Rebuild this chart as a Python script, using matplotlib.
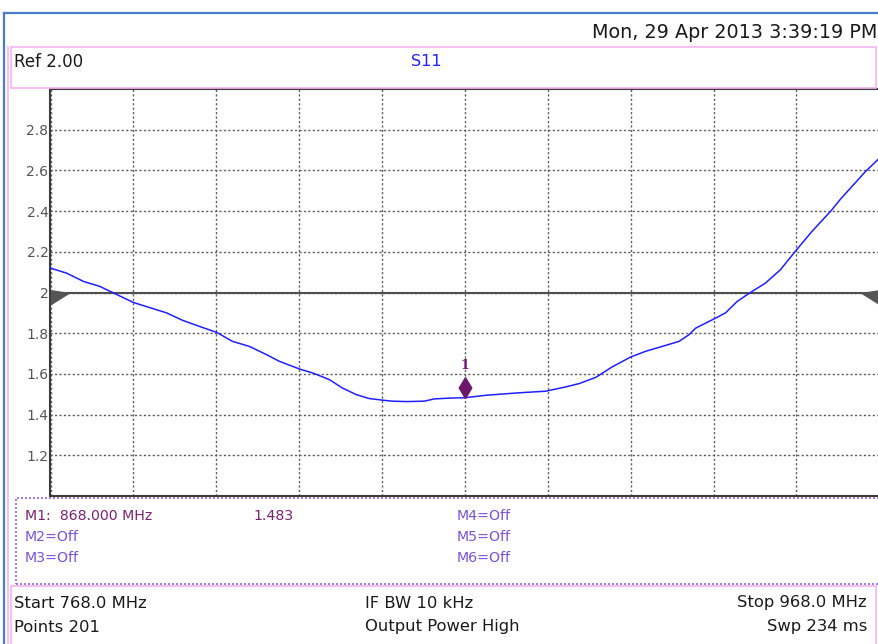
import matplotlib
matplotlib.use("Agg")
import matplotlib.pyplot as plt
from matplotlib.lines import Line2D
from matplotlib.patches import Rectangle

# S11 (SWR) trace
freq_mhz = [768.0, 771.9, 776.0, 779.9, 784.0, 788.0, 791.9, 796.0, 799.9, 804.0,
            808.1, 811.9, 816.0, 820.1, 823.2, 828.1, 831.2, 835.3, 838.4, 841.8,
            844.9, 848.1, 850.5, 854.0, 858.2, 860.6, 864.2, 868.0, 873.1, 881.0,
            887.5, 892.3, 895.5, 899.6, 903.5, 908.0, 911.6, 915.6, 919.7, 922.1,
            923.7, 928.1, 930.9, 933.7, 936.9, 940.5, 944.1, 948.0, 951.7, 956.5,
            958.6, 964.6, 968.0]
s11_vswr = [2.12, 2.095, 2.054, 2.03, 1.99, 1.951, 1.926, 1.90, 1.863, 1.833,
            1.804, 1.76, 1.735, 1.695, 1.662, 1.624, 1.605, 1.572, 1.531, 1.498,
            1.479, 1.471, 1.466, 1.464, 1.466, 1.477, 1.481, 1.483, 1.495, 1.507,
            1.515, 1.536, 1.552, 1.583, 1.634, 1.683, 1.711, 1.735, 1.76, 1.793,
            1.825, 1.87, 1.90, 1.956, 2.0, 2.046, 2.111, 2.209, 2.299, 2.405,
            2.458, 2.593, 2.66]

ref_level = 2.0
y_ticks = [1.2, 1.4, 1.6, 1.8, 2.0, 2.2, 2.4, 2.6, 2.8]
y_tick_labels = ["1.2", "1.4", "1.6", "1.8", "2", "2.2", "2.4", "2.6", "2.8"]
x_ticks = [768, 788, 808, 828, 848, 868, 888, 908, 928, 948, 968]

marker_freq = 868.0
marker_val = 1.483
marker_rows = [("M1:  868.000 MHz", "1.483", "M4=Off"),
               ("M2=Off", "", "M5=Off"),
               ("M3=Off", "", "M6=Off")]

date_text = "Mon, 29 Apr 2013 3:39:19 PM"
ref_text = "Ref 2.00"
trace_name = "S11"
footer_left = ["Start 768.0 MHz", "Points 201"]
footer_mid = ["IF BW 10 kHz", "Output Power High"]
footer_right = ["Stop 968.0 MHz", "Swp 234 ms"]

W, H = 879, 644


def fx(x):
    return x / W


def fy(y):
    return 1 - y / H


fig = plt.figure(figsize=(W / 100, H / 100), dpi=100)
fig.patch.set_facecolor("white")

# screen frame (blue border + pink panels)
fig.add_artist(Line2D([fx(4), fx(4)], [fy(13), fy(644)], color="#4a7cc9", lw=1.6))
fig.add_artist(Line2D([fx(4), fx(879)], [fy(13), fy(13)], color="#4a7cc9", lw=1.6))
fig.add_artist(Line2D([fx(8), fx(8)], [fy(47), fy(644)], color="#f7b3f2", lw=1.2))
fig.add_artist(Rectangle((fx(11), fy(88)), fx(876) - fx(11), fy(47) - fy(88),
                         fill=False, edgecolor="#f7b3f2", lw=1.2))
fig.add_artist(Rectangle((fx(11), fy(650)), fx(876) - fx(11), fy(586) - fy(650),
                         fill=False, edgecolor="#f7b3f2", lw=1.2))
fig.add_artist(Rectangle((fx(16), fy(584)), fx(885) - fx(16), fy(498) - fy(584),
                         fill=False, edgecolor="#8a66e6", lw=1.2, linestyle=(0, (1.2, 1.2))))

fig.text(fx(877), fy(32), date_text, ha="right", va="center", fontsize=13.8, color="#1a1a1a")
fig.text(fx(14), fy(62), ref_text, ha="left", va="center", fontsize=12, color="#1a1a1a")
fig.text(fx(411), fy(62), trace_name, ha="left", va="center", fontsize=11.5, color="#2222ff")

# plot area
ax = fig.add_axes([fx(50.5), fy(496), fx(879.3) - fx(50.5), fy(89) - fy(496)])
ax.set_xlim(freq_mhz[0], freq_mhz[-1])
ax.set_ylim(1.0, 3.0)
ax.set_xticks(x_ticks)
ax.set_xticklabels([])
ax.set_yticks(y_ticks)
ax.set_yticklabels(y_tick_labels)
ax.tick_params(length=0, pad=1.5, labelsize=10, labelcolor="#555555")
ax.grid(True, color="#606060", lw=1.0, linestyle=(0, (1.6, 1.6)))
for sp in ax.spines.values():
    sp.set_color("#3c3c3c")
    sp.set_linewidth(1.5)

ax.axhline(ref_level, color="#505050", lw=1.5, zorder=2)
tri_r = [(0, 0.25), (1.6, 0), (0, -1), (0, 0.25)]
tri_l = [(0, 0.25), (-1.6, 0), (0, -1), (0, 0.25)]
ax.plot([freq_mhz[0]], [ref_level], marker=tri_r, markersize=25, color="#555555", clip_on=False, zorder=3)
ax.plot([freq_mhz[-1]], [ref_level], marker=tri_l, markersize=25, color="#555555", clip_on=False, zorder=3)

ax.plot(freq_mhz, s11_vswr, color="#2020ff", lw=1.1, zorder=4)

# marker 1
diamond = [(0, 0), (0.3, 0.5), (0, 1), (-0.3, 0.5), (0, 0)]
ax.plot([marker_freq], [marker_val], marker=diamond, markersize=30, color="#6e186c", zorder=5)
ax.annotate("1", (marker_freq, marker_val), xytext=(0, 23), textcoords="offset points",
            ha="center", va="center", fontsize=9, fontweight="bold", family="DejaVu Serif",
            color="#6e186c")

# marker table
row_y = [516, 537, 558]
for i, (a, b, c) in enumerate(marker_rows):
    col = "#7a2470" if i == 0 else "#7b52d8"
    fig.text(fx(25), fy(row_y[i]), a, ha="left", va="center", fontsize=10.2, color=col)
    if b:
        fig.text(fx(253), fy(row_y[i]), b, ha="left", va="center", fontsize=10.2, color=col)
    fig.text(fx(457), fy(row_y[i]), c, ha="left", va="center", fontsize=10.2, color="#7b52d8")

# footer
foot_y = [603, 627]
for i in range(2):
    fig.text(fx(14), fy(foot_y[i]), footer_left[i], ha="left", va="center", fontsize=11.8, color="#1a1a1a")
    fig.text(fx(365), fy(foot_y[i]), footer_mid[i], ha="left", va="center", fontsize=11.8, color="#1a1a1a")
    fig.text(fx(867), fy(foot_y[i]), footer_right[i], ha="right", va="center", fontsize=11.8, color="#1a1a1a")

fig.savefig("out.png", dpi=100)
